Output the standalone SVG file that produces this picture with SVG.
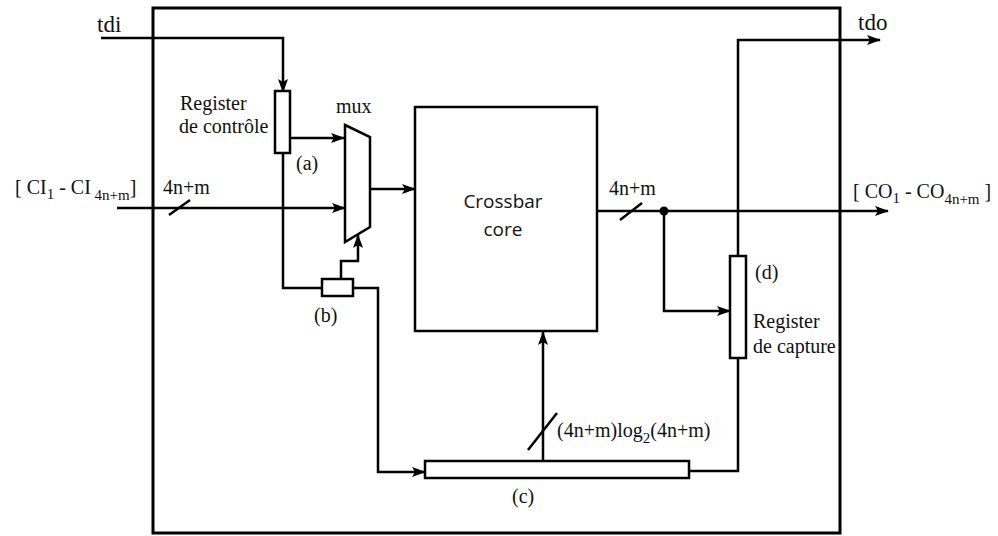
<svg xmlns="http://www.w3.org/2000/svg" width="998" height="536" viewBox="0 0 998 536">
<defs>
<marker id="ah" markerUnits="userSpaceOnUse" markerWidth="14" markerHeight="10" refX="13" refY="5" orient="auto">
<path d="M0,0 L14,5 L0,10 L3,5 Z" fill="#000"/>
</marker>
<style>
.ln{fill:none;stroke:#000;stroke-width:2.5}
.box{fill:#fff;stroke:#000;stroke-width:2.5}
.ar{marker-end:url(#ah)}
.t{font-family:'Liberation Serif','DejaVu Serif',serif;font-size:20px;fill:#111}
.big{font-size:23px}
.s{font-family:'Open Sans','Noto Sans',sans-serif;font-size:19px;fill:#111}
.sub{font-size:15px}
</style>
</defs>
<rect width="998" height="536" fill="#fff"/>
<g id="outer"><rect x="153" y="8" width="687" height="525" fill="none" stroke="#000" stroke-width="3"/></g>

<g id="connectors">
<path class="ln ar" d="M101,38 H283 V92"/>
<path class="ln ar" d="M290,138 H344"/>
<path class="ln ar" d="M117,208 H345"/>
<line class="ln" x1="169" y1="215" x2="190" y2="200"/>
<path class="ln ar" d="M370,189 H415"/>
<path class="ln" d="M283,153 V288 H322"/>
<path class="ln ar" d="M341,279 V261 H358 V235"/>
<path class="ln ar" d="M353,288 H378 V472 H425"/>
<path class="ln ar" d="M543,461 V332"/>
<line class="ln" x1="528" y1="450" x2="557" y2="413"/>
<path class="ln ar" d="M597,211 H888"/>
<line class="ln" x1="620" y1="220" x2="642" y2="203"/>
<circle cx="664" cy="211" r="4.5" fill="#000"/>
<path class="ln ar" d="M664,211 V311 H730"/>
<path class="ln ar" d="M738,256 V40 H880"/>
<path class="ln" d="M738,358 V471 H689"/>
</g>

<g id="tdi"><text class="t big" x="97" y="32">tdi</text></g>
<g id="tdo"><text class="t big" x="858" y="30">tdo</text></g>

<g id="reg-controle">
<rect class="box" x="275" y="91" width="15" height="62"/>
<text class="t" x="180" y="110">Register</text>
<text class="t" x="179" y="133">de contrôle</text>
<text class="t" x="296" y="170">(a)</text>
</g>

<g id="mux">
<polygon class="box" points="345,125 370,137 370,227 345,242"/>
<text class="t" x="336" y="113">mux</text>
</g>

<g id="ci-label">
<text class="t" x="15" y="194">[ CI<tspan class="sub" dy="5">1</tspan><tspan dy="-5"> - CI</tspan><tspan class="sub" dy="6"> 4n+m</tspan><tspan dy="-6">]</tspan></text>
<text class="t" x="163" y="194">4n+m</text>
</g>

<g id="reg-b">
<rect class="box" x="322" y="279" width="31" height="17"/>
<text class="t" x="314" y="322">(b)</text>
</g>

<g id="crossbar">
<rect class="box" x="415" y="107" width="182" height="224"/>
<text class="s" x="503" y="208" text-anchor="middle">Crossbar</text>
<text class="s" x="503" y="236" text-anchor="middle">core</text>
</g>

<g id="co-label">
<text class="t" x="609" y="195">4n+m</text>
<text class="t" x="853" y="198">[ CO<tspan class="sub" dy="5">1</tspan><tspan dy="-5"> - CO</tspan><tspan class="sub" dy="6">4n+m</tspan><tspan dy="-6"> ]</tspan></text>
</g>

<g id="reg-capture">
<rect class="box" x="730" y="256" width="16" height="102"/>
<text class="t" x="755" y="279">(d)</text>
<text class="t" x="753" y="328">Register</text>
<text class="t" x="753" y="353">de capture</text>
</g>

<g id="reg-c">
<rect class="box" x="425" y="461" width="264" height="17"/>
<text class="t" x="557" y="437">(4n+m)log<tspan class="sub" dy="6">2</tspan><tspan dy="-6">(4n+m)</tspan></text>
<text class="t" x="512" y="503">(c)</text>
</g>
</svg>
